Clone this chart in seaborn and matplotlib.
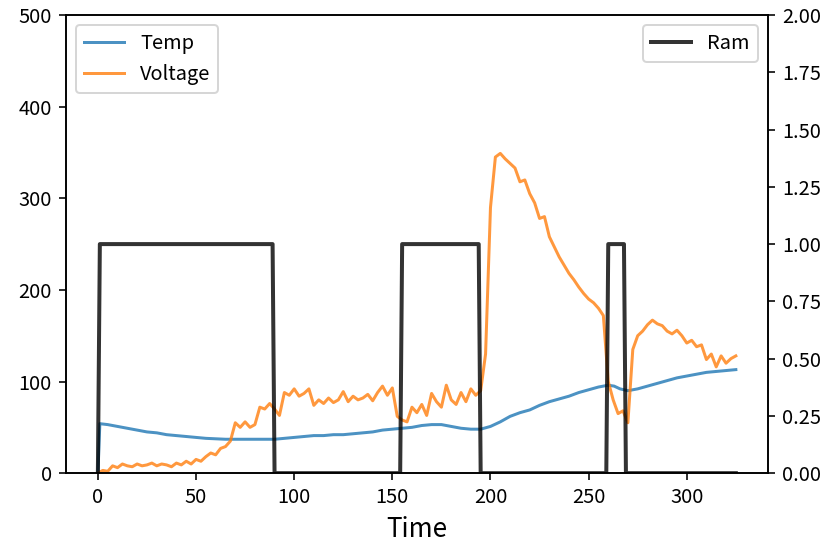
import matplotlib
matplotlib.use("Agg")
import matplotlib.pyplot as plt
import seaborn as sns
import pandas as pd

plt.rcParams['font.family'] = ['Noto Sans CJK SC', 'DejaVu Sans']

temp_time = [0, 1, 5, 10, 15, 20, 25, 30, 35, 40, 45, 50, 55, 60, 65, 70, 75, 80, 85, 90,
             95, 100, 105, 110, 115, 120, 125, 130, 135, 140, 145, 150, 155, 160, 165, 170,
             175, 180, 185, 190, 195, 200, 205, 210, 215, 220, 225, 230, 235, 240, 245, 250,
             255, 260, 263, 266, 270, 275, 280, 285, 290, 295, 300, 305, 310, 315, 320, 325]
temp_vals = [0, 54, 53, 51, 49, 47, 45, 44, 42, 41, 40, 39, 38, 37.5, 37, 37, 37, 37, 37, 37,
             38, 39, 40, 41, 41, 42, 42, 43, 44, 45, 47, 48, 49, 50, 52, 53,
             53, 51, 49, 48, 48, 51, 56, 62, 66, 69, 74, 78, 81, 84, 88, 91,
             94, 96, 95, 92, 90, 92, 95, 98, 101, 104, 106, 108, 110, 111, 112, 113]

volt_time = [i * 2.5 for i in range(131)]
volt_vals = [0, 3, 2, 8, 6, 10, 8, 7, 10, 8, 9, 11, 8, 10, 9, 7, 11, 9, 13, 10,
             15, 13, 18, 22, 20, 27, 29, 35, 55, 50, 56, 50, 53, 72, 70, 76, 70, 63, 88, 85,
             92, 84, 87, 92, 74, 80, 76, 82, 77, 80, 89, 78, 84, 80, 82, 86, 79, 88, 95, 85,
             93, 62, 58, 56, 72, 66, 75, 63, 87, 78, 72, 96, 80, 75, 88, 78, 92, 85, 90, 130,
             290, 345, 349, 343, 338, 333, 318, 320, 305, 295, 278, 280, 258, 247, 236, 227,
             218, 211, 203, 196, 190, 186, 180, 172, 100, 80, 65, 68, 55, 135, 150, 155,
             162, 167, 163, 161, 155, 152, 156, 150, 142, 145, 138, 140, 124, 130, 116, 128,
             120, 125, 128]

ram_time = [0, 1, 89, 90, 154, 155, 194, 195, 259, 260, 268, 269, 325]
ram_vals = [0, 1, 1, 0, 0, 1, 1, 0, 0, 1, 1, 0, 0]

df_temp = pd.DataFrame({"Time": temp_time, "v": temp_vals})
df_volt = pd.DataFrame({"Time": volt_time, "v": volt_vals})
df_ram = pd.DataFrame({"Time": ram_time, "v": ram_vals})

fig = plt.figure(figsize=(830 / 144, 547 / 144), dpi=144)
ax = fig.add_axes([0.0795, 0.135, 0.8455, 0.8375])
sns.lineplot(data=df_temp, x="Time", y="v", ax=ax, color="#1f77b4", alpha=0.8,
             label="Temp", linewidth=1.5, estimator=None, sort=False)
sns.lineplot(data=df_volt, x="Time", y="v", ax=ax, color="#ff7f0e", alpha=0.8,
             label="Voltage", linewidth=1.5, estimator=None, sort=False)
ax.set_ylim(0, 500)
ax.set_xlim(-16.25, 341.25)
ax.set_ylabel("")
ax.set_xlabel("Time", fontsize=13)
ax.legend(loc="upper left")

ax2 = ax.twinx()
sns.lineplot(data=df_ram, x="Time", y="v", ax=ax2, color="black", alpha=0.8,
             label="Ram", linewidth=2, estimator=None, sort=False)
ax2.set_ylim(0, 2)
ax2.set_yticks([0, 0.25, 0.5, 0.75, 1.0, 1.25, 1.5, 1.75, 2.0])
ax2.set_yticklabels(["0.00", "0.25", "0.50", "0.75", "1.00", "1.25", "1.50", "1.75", "2.00"])
ax2.set_ylabel("")
ax2.set_xlim(-16.25, 341.25)
ax2.legend(loc="upper right")

fig.savefig("out.png", dpi=144)
